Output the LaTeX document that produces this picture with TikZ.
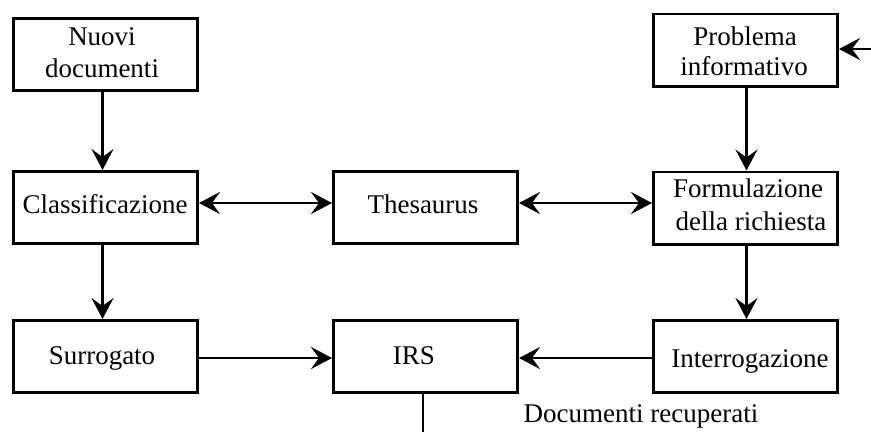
\documentclass[tikz,border=0pt]{standalone}
\usepackage{fontspec}
\setmainfont{Liberation Serif}
\usetikzlibrary{arrows.meta}
\begin{document}
\begin{tikzpicture}[x=1pt,y=-1pt,
  box/.style={draw,line width=2.8pt,minimum width=184.2pt,minimum height=72.2pt,inner sep=0pt},
  txt/.style={anchor=base,inner sep=0pt,font=\fontsize{27}{32}\selectfont},
  tip/.tip={Stealth[length=21pt,width=22pt,inset=8pt]},
  flow/.style={line width=2.6pt,-tip},
  both/.style={line width=2.6pt,tip-tip}]
\useasboundingbox (0,0) rectangle (871,432);
% boxes
\node[box] (nuovi)  at (105.5,54.5) {};
\node[box] (prob)   at (745.5,50)   {};
\node[box] (class)  at (105.5,207.5) {};
\node[box] (thes)   at (425.5,207.5) {};
\node[box] (form)   at (745.5,208)   {};
\node[box] (surr)   at (105.5,356.5) {};
\node[box] (irs)    at (425.5,356.5) {};
\node[box] (interr) at (745.5,356.5) {};
% box texts, placed by baseline
\node[txt] (nuovi-a)  at (102,45)  {Nuovi};
\node[txt] (nuovi-b)  at (102,77)  {documenti};
\node[txt] (prob-a)   at (745,45)  {Problema};
\node[txt] (prob-b)   at (744,75)  {informativo};
\node[txt] (class-t)  at (105,213) {Classificazione};
\node[txt] (thes-t)   at (423,213) {Thesaurus};
\node[txt] (form-a)   at (748,197) {Formulazione};
\node[txt] (form-b)   at (751,230) {della richiesta};
\node[txt] (surr-t)   at (102,364) {Surrogato};
\node[txt] (irs-t)    at (414,364) {IRS};
\node[txt] (interr-t) at (750,367) {Interrogazione};
\node[txt] (docs)     at (641,422) {Documenti recuperati};
% free ends
\coordinate (inq) at (871,49);
\coordinate (out) at (423,432);
% vertical connectors
\draw[flow] ([xshift=-3pt]nuovi.south) -- ([xshift=-3pt]class.north);
\draw[flow] ([xshift=-3pt]class.south) -- ([xshift=-3pt]surr.north);
\draw[flow] ([xshift=1pt]prob.south) -- ([xshift=1pt]form.north);
\draw[flow] ([xshift=1pt]form.south) -- ([xshift=1pt]interr.north);
\draw[line width=2.6pt] ([xshift=-2.5pt]irs.south) -- (out);
% horizontal connectors
\draw[flow] (inq) -- (prob.east |- inq);
\draw[both] ([yshift=4.5pt]class.east) -- ([yshift=4.5pt]thes.west);
\draw[both] ([yshift=4.5pt]thes.east) -- ([yshift=5pt]form.west);
\draw[flow] ([yshift=-1.5pt]surr.east) -- ([yshift=-1.5pt]irs.west);
\draw[flow] ([yshift=-1.5pt]interr.west) -- ([yshift=-1.5pt]irs.east);
\end{tikzpicture}
\end{document}
